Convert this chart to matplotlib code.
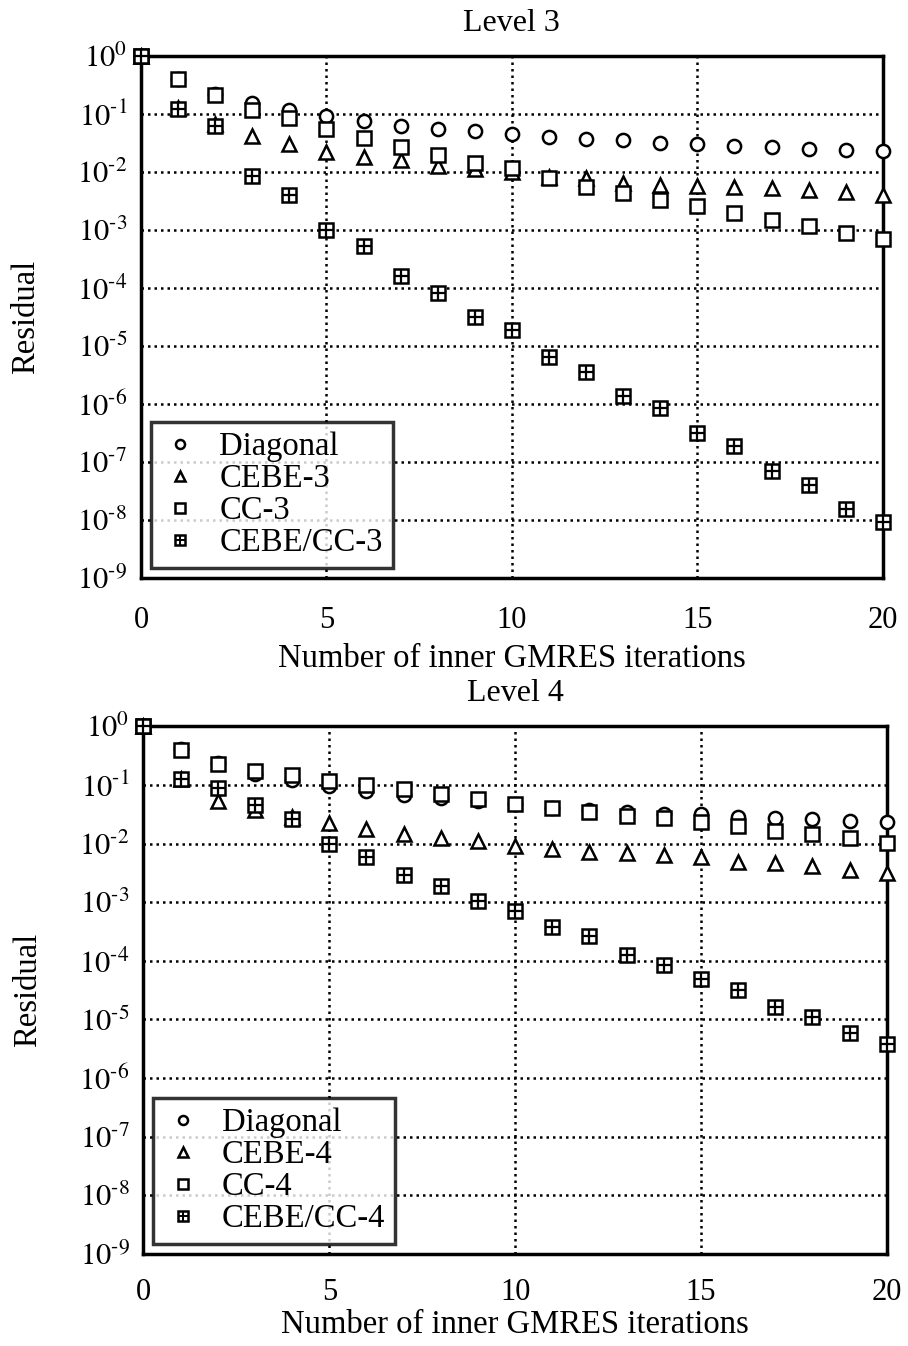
import numpy as np
import matplotlib
matplotlib.use("Agg")
import matplotlib.pyplot as plt
from matplotlib.lines import Line2D

plt.rcParams['font.family'] = ['Liberation Serif', 'DejaVu Serif']
plt.rcParams['mathtext.fontset'] = 'stix'

iters = list(range(0, 21))

# Level 3
diag_3 = [1.0, 0.40, 0.22, 0.157, 0.117, 0.092, 0.076, 0.063, 0.056, 0.050, 0.045,
          0.040, 0.037, 0.035, 0.032, 0.030, 0.028, 0.027, 0.025, 0.024, 0.023]
cebe_3 = [1.0, 0.125, 0.068, 0.041, 0.030, 0.0224, 0.0184, 0.0158, 0.0127, 0.0112, 0.0098,
          0.0083, 0.0078, 0.0065, 0.0060, 0.0057, 0.0055, 0.0052, 0.0049, 0.0046, 0.0040]
cc_3 = [1.0, 0.40, 0.21, 0.117, 0.084, 0.055, 0.039, 0.027, 0.020, 0.0145, 0.0115,
        0.0078, 0.0056, 0.0043, 0.0033, 0.0026, 0.0020, 0.0015, 0.00115, 0.00090, 0.00069]
cebecc_3 = [1.0, 0.122, 0.062, 0.0085, 0.0040, 0.0010, 0.00052, 0.00016, 8.3e-5, 3.1e-5, 1.9e-5,
            6.4e-6, 3.6e-6, 1.4e-6, 8.4e-7, 3.1e-7, 1.9e-7, 6.9e-8, 4.0e-8, 1.55e-8, 9.4e-9]

# Level 4
diag_4 = [1.0, 0.41, 0.237, 0.156, 0.12, 0.096, 0.079, 0.067, 0.059, 0.053, 0.048,
          0.041, 0.037, 0.035, 0.032, 0.032, 0.0285, 0.027, 0.026, 0.0245, 0.0234]
cebe_4 = [1.0, 0.125, 0.053, 0.037, 0.028, 0.0225, 0.018, 0.0143, 0.0123, 0.011, 0.0091,
          0.0080, 0.0072, 0.0068, 0.0065, 0.0059, 0.0049, 0.0046, 0.0041, 0.0036, 0.0031]
cc_4 = [1.0, 0.40, 0.23, 0.175, 0.150, 0.118, 0.100, 0.085, 0.070, 0.057, 0.048,
        0.041, 0.035, 0.030, 0.0277, 0.0234, 0.020, 0.0163, 0.0145, 0.0122, 0.0103]
cebecc_4 = [1.0, 0.128, 0.087, 0.046, 0.026, 0.0098, 0.0059, 0.0029, 0.0019, 0.00105, 0.00070,
            3.8e-4, 2.6e-4, 1.26e-4, 8.5e-5, 4.8e-5, 3.2e-5, 1.6e-5, 1.1e-5, 5.9e-6, 3.8e-6]

yticks = [10.0 ** (-k) for k in range(0, 10)]
ytick_labels = ['$10^{0}$'] + ['$10^{\\text{-}%d}$' % k for k in range(1, 10)]
xticks = [0, 5, 10, 15, 20]

MS = 9.5


def draw(ax, series, names, title, xpad, xlabpad):
    ax.set_yscale('log')
    styles = ['o', '^', 's', 's']
    for vals, m in zip(series, styles):
        ax.plot(iters, vals, linestyle='none', marker=m, ms=MS, mfc='white',
                mec='black', mew=1.8, clip_on=False, zorder=3)
    # plus inside the last square series
    ax.plot(iters, series[3], linestyle='none', marker='+', ms=MS, mec='black',
            mew=1.6, clip_on=False, zorder=4)

    ax.set_xlim(0, 20)
    ax.set_ylim(1e-9, 1)
    ax.set_xticks(xticks)
    ax.set_yticks(yticks)
    ax.set_yticklabels(ytick_labels)
    ax.minorticks_off()
    ax.tick_params(axis='both', length=0, labelsize=22)
    ax.tick_params(axis='x', pad=xpad)
    ax.tick_params(axis='y', pad=10)
    ax.grid(True, which='major', color='black', linestyle=(0, (1, 1.6)), linewidth=1.8)
    for sp in ax.spines.values():
        sp.set_linewidth(2.5)
    ax.set_title(title, fontsize=23, pad=18)
    ax.set_xlabel('Number of inner GMRES iterations', fontsize=23.5, labelpad=xlabpad)
    ax.set_ylabel('Residual', fontsize=23.5, labelpad=26)

    lm = 6.5
    h = [Line2D([], [], ls='none', marker='o', ms=lm, mfc='white', mec='black', mew=1.8),
         Line2D([], [], ls='none', marker='^', ms=lm, mfc='white', mec='black', mew=1.8),
         Line2D([], [], ls='none', marker='s', ms=lm, mfc='white', mec='black', mew=1.8),
         (Line2D([], [], ls='none', marker='s', ms=lm, mfc='white', mec='black', mew=1.8),
          Line2D([], [], ls='none', marker='+', ms=lm, mec='black', mew=1.4))]
    leg = ax.legend(h, names, loc='lower left', fontsize=23.5, frameon=True,
                    fancybox=False, borderpad=0.3, labelspacing=0.05,
                    handlelength=1.2, handletextpad=0.6, borderaxespad=0.3)
    leg.get_frame().set_edgecolor('black')
    leg.get_frame().set_linewidth(2.5)
    leg.set_zorder(5)


fig = plt.figure(figsize=(9.08, 13.46), dpi=100)
ax1 = fig.add_axes([0.1553, 0.5706, 0.817, 0.3878])
ax2 = fig.add_axes([0.158, 0.0684, 0.8185, 0.392])

draw(ax1, [diag_3, cebe_3, cc_3, cebecc_3],
     ['Diagonal', 'CEBE-3', 'CC-3', 'CEBE/CC-3'], 'Level 3', 20, 6)
draw(ax2, [diag_4, cebe_4, cc_4, cebecc_4],
     ['Diagonal', 'CEBE-4', 'CC-4', 'CEBE/CC-4'], 'Level 4', 17, 2)

fig.savefig('out.png', dpi=100)
